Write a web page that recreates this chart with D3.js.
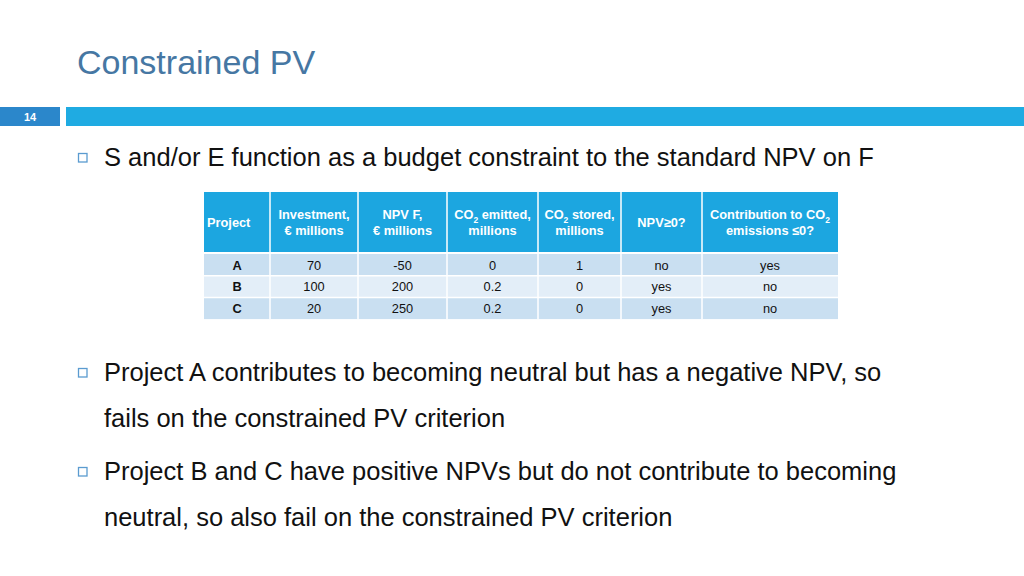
<!DOCTYPE html>
<html>
<head>
<meta charset="utf-8">
<script src="https://cdn.jsdelivr.net/npm/d3@7"></script>
<style>
  html, body { margin: 0; padding: 0; background: #fff; }
  svg { display: block; font-family: "Liberation Sans", Arial, Helvetica, sans-serif; }
</style>
</head>
<body>
<div id="slide"></div>
<script>
// Slide content
const slideTitle = "Constrained PV";
const slideNumber = "14";

// Table header: each entry is a list of lines, each line a list of [text, isSubscript] runs
const headers = [
    [[["Project", false]]],
    [[["Investment,", false]], [["€ millions", false]]],
    [[["NPV F,", false]], [["€ millions", false]]],
    [[["CO", false], ["2", true], [" emitted,", false]], [["millions", false]]],
    [[["CO", false], ["2", true], [" stored,", false]], [["millions", false]]],
    [[["NPV≥0?", false]]],
    [[["Contribution to CO", false], ["2", true]], [["emissions ≤0?", false]]]
];

const projects = ["A", "B", "C"];
const investment = ["70", "100", "20"];
const npvF = ["-50", "200", "250"];
const co2Emitted = ["0", "0.2", "0.2"];
const co2Stored = ["1", "0", "0"];
const npvPositive = ["no", "yes", "yes"];
const co2Contribution = ["yes", "no", "no"];

const bullets = [
    ["S and/or E function as a budget constraint to the standard NPV on F"],
    ["Project A contributes to becoming neutral but has a negative NPV, so",
     "fails on the constrained PV criterion"],
    ["Project B and C have positive NPVs but do not contribute to becoming",
     "neutral, so also fail on the constrained PV criterion"]
];

// Layout
const W = 1024, H = 576;
const colEdges = [204, 270, 358, 447, 538, 621, 702, 838];
const headerTop = 192, headerBottom = 252;
const rowTop = 254, rowH = 21.7;

const svg = d3.select("#slide").append("svg")
    .attr("width", W)
    .attr("height", H)
    .attr("viewBox", [0, 0, W, H]);

// Title
svg.append("text")
    .attr("x", 77)
    .attr("y", 74)
    .attr("fill", "#4677a3")
    .attr("font-size", "34px")
    .text(slideTitle);

// Number bar
svg.append("rect").attr("x", 0).attr("y", 107).attr("width", 60).attr("height", 19).attr("fill", "#2b87cb");
svg.append("rect").attr("x", 66).attr("y", 107).attr("width", W - 66).attr("height", 19).attr("fill", "#1fabe2");
svg.append("text")
    .attr("x", 30).attr("y", 121)
    .attr("text-anchor", "middle")
    .attr("fill", "#fff")
    .attr("font-size", "11px")
    .attr("font-weight", "bold")
    .text(slideNumber);

// Bullets
const bulletBase = [166, 381, 480];
const lineGap = 45.5;
const bulletGroup = svg.append("g");
bullets.forEach((lines, i) => {
    bulletGroup.append("rect")
        .attr("x", 78.5).attr("y", bulletBase[i] - 12.5)
        .attr("width", 8.5).attr("height", 8.5)
        .attr("fill", "none")
        .attr("stroke", "#5a9bd0")
        .attr("stroke-width", 1.3);
    lines.forEach((line, j) => {
        bulletGroup.append("text")
            .attr("x", 104)
            .attr("y", bulletBase[i] + j * lineGap)
            .attr("fill", "#111")
            .attr("font-size", "25.5px")
            .text(line);
    });
});

// Table
const columns = [projects, investment, npvF, co2Emitted, co2Stored, npvPositive, co2Contribution];
const rows = projects.map((p, r) => columns.map(c => c[r]));

const x = d3.scaleOrdinal().domain(d3.range(columns.length)).range(colEdges.slice(0, -1));
const colW = i => colEdges[i + 1] - colEdges[i];
const y = d3.scaleLinear().domain([0, 1]).range([rowTop, rowTop + rowH]);

const table = svg.append("g");

// Header cells
const head = table.selectAll("g.head")
    .data(headers)
    .enter().append("g")
    .attr("class", "head");

head.append("rect")
    .attr("x", (d, i) => x(i))
    .attr("y", headerTop)
    .attr("width", (d, i) => colW(i))
    .attr("height", headerBottom - headerTop)
    .attr("fill", "#1ca6e0");

head.each(function (lines, i) {
    const g = d3.select(this);
    const mid = (headerTop + headerBottom) / 2;
    const startY = mid + 5 - (lines.length - 1) * 8;
    lines.forEach((runs, j) => {
        const t = g.append("text")
            .attr("x", i === 0 ? x(i) + 3 : x(i) + colW(i) / 2)
            .attr("y", startY + j * 16)
            .attr("text-anchor", i === 0 ? "start" : "middle")
            .attr("fill", "#fff")
            .attr("font-size", "12.8px")
            .attr("font-weight", "bold");
        runs.forEach(([txt, sub], k) => {
            const s = t.append("tspan").text(txt);
            if (sub) s.attr("font-size", "8.5px").attr("dy", 3.5);
            else if (k > 0) s.attr("dy", -3.5);
        });
    });
});

// Body cells
const rowFills = ["#c9dff1", "#e3eef8", "#c9dff1"];
const body = table.selectAll("g.row")
    .data(rows)
    .enter().append("g")
    .attr("class", "row");

body.selectAll("rect")
    .data((d, r) => d.map(v => ({ v, r })))
    .enter().append("rect")
    .attr("x", (d, i) => x(i))
    .attr("y", d => y(d.r))
    .attr("width", (d, i) => colW(i))
    .attr("height", rowH)
    .attr("fill", d => rowFills[d.r]);

body.selectAll("text")
    .data((d, r) => d.map(v => ({ v, r })))
    .enter().append("text")
    .attr("x", (d, i) => x(i) + colW(i) / 2)
    .attr("y", d => y(d.r) + 15.5)
    .attr("text-anchor", "middle")
    .attr("fill", "#111")
    .attr("font-size", "12.8px")
    .attr("font-weight", (d, i) => i === 0 ? "bold" : "normal")
    .text(d => d.v);

// White cell borders
const gridLines = table.append("g")
    .attr("stroke", "#fff")
    .attr("stroke-width", 1.5);
colEdges.slice(1, -1).forEach(cx => {
    gridLines.append("line")
        .attr("x1", cx).attr("x2", cx)
        .attr("y1", headerTop).attr("y2", y(rows.length));
});
d3.range(1, rows.length).forEach(r => {
    gridLines.append("line")
        .attr("x1", colEdges[0]).attr("x2", colEdges[colEdges.length - 1])
        .attr("y1", y(r)).attr("y2", y(r));
});
</script>
</body>
</html>
